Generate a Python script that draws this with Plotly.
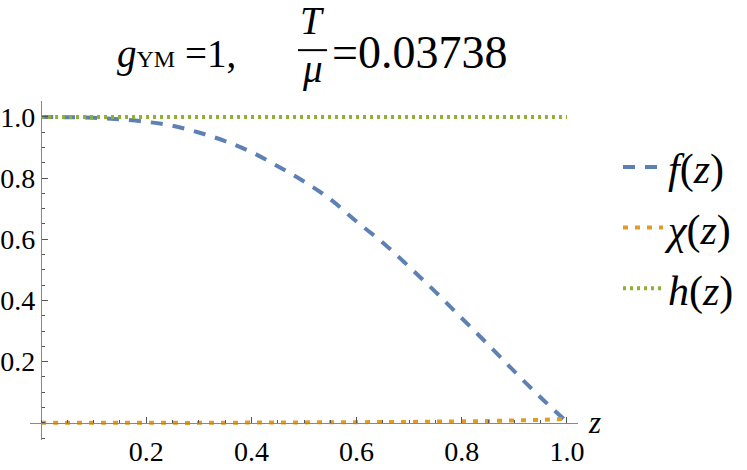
import plotly.graph_objects as go

# data
z = [0.0, 0.05, 0.1, 0.15, 0.2, 0.25, 0.3, 0.35, 0.4, 0.45, 0.5,
     0.55, 0.6, 0.65, 0.7, 0.75, 0.8, 0.85, 0.9, 0.95, 1.0]
f_z = [1.0, 0.999, 0.997, 0.992, 0.984, 0.971, 0.949, 0.921, 0.885, 0.839, 0.789,
       0.731, 0.658, 0.589, 0.510, 0.428, 0.342, 0.256, 0.168, 0.083, 0.003]
chi_z = [0.0, 0.0, 0.0, 0.0, 0.0, 0.0, 0.0, 0.0005, 0.001, 0.001, 0.0015,
         0.002, 0.002, 0.003, 0.003, 0.004, 0.005, 0.006, 0.008, 0.010, 0.013]
h_z = [1.0] * len(z)

tick_vals = [0.2, 0.4, 0.6, 0.8, 1.0]
tick_text = ["0.2", "0.4", "0.6", "0.8", "1.0"]

names = ["<i>f</i>(<i>z</i>)", "<i>χ</i>(<i>z</i>)", "<i>h</i>(<i>z</i>)"]
colors = ["#5E81B5", "#E19C24", "#8FB032"]
dashes = ["12px,10px", "5px,7px", "3px,4px"]

serif = "Times New Roman"
xr = [-0.021, 1.021]
yr = [-0.056, 1.052]

fig = go.Figure()
for i, ys in enumerate([f_z, chi_z, h_z]):
    fig.add_trace(go.Scatter(
        x=z, y=ys, mode="lines", name=names[i], legendgroup=str(i),
        line=dict(color=colors[i], width=4, dash=dashes[i], shape="spline"),
    ))

axis_common = dict(
    showgrid=False, zeroline=False, showline=True, linecolor="#888888", linewidth=1.2,
    ticks="inside", ticklen=6, tickcolor="#555555", tickwidth=1,
    tickmode="array", tickvals=tick_vals, ticktext=tick_text,
    tickfont=dict(family=serif, size=28, color="black"),
    minor=dict(tickmode="linear", tick0=0, dtick=0.05, ticks="inside", ticklen=3,
               tickcolor="#555555", tickwidth=1),
    automargin=False,
)

fig.update_layout(
    width=747, height=470,
    margin=dict(l=30, r=169, t=101, b=30, autoexpand=False),
    paper_bgcolor="white", plot_bgcolor="white",
    xaxis=dict(range=xr, anchor="free", position=(0 - yr[0]) / (yr[1] - yr[0]),
               ticklabelstandoff=3, **axis_common),
    yaxis=dict(range=yr, anchor="free", position=(0 - xr[0]) / (xr[1] - xr[0]),
               ticklabelstandoff=0, **axis_common),
    legend=dict(x=1.073, y=0.905, xanchor="left", yanchor="top",
                font=dict(family=serif, size=42, color="black"),
                tracegroupgap=3, itemwidth=40, bgcolor="rgba(0,0,0,0)"),
    showlegend=True,
)

# axis label
fig.add_annotation(x=1.031, y=0, xref="paper", yref="y", text="<i>z</i>",
                   showarrow=False, font=dict(family=serif, size=31, color="black"),
                   xanchor="center", yanchor="middle")

# title built from pieces (fraction T / mu)
tfont = dict(family=serif, size=46, color="black")
gfont = dict(family=serif, size=39, color="black")
ffont = dict(family=serif, size=39, color="black")
fig.add_annotation(x=0.3796, y=1.138, xref="paper", yref="paper",
                   text="<i>g</i><span style='font-size:24px'>YM</span> =1,",
                   showarrow=False, font=gfont, xanchor="right", yanchor="middle")
fig.add_annotation(x=0.5146, y=1.236, xref="paper", yref="paper",
                   text="<i>T</i>", showarrow=False, font=ffont,
                   xanchor="center", yanchor="middle")
fig.add_annotation(x=0.5146, y=1.094, xref="paper", yref="paper",
                   text="<i>μ</i>", showarrow=False, font=ffont,
                   xanchor="center", yanchor="middle")
fig.add_shape(type="line", xref="paper", yref="paper", x0=0.489, x1=0.542,
              y0=1.150, y1=1.150, line=dict(color="black", width=2))
fig.add_annotation(x=0.547, y=1.142, xref="paper", yref="paper",
                   text="=0.03738", showarrow=False, font=tfont,
                   xanchor="left", yanchor="middle")

fig.write_html("out.html", config={"displayModeBar": False},
               post_script="document.body.style.margin='0';")
